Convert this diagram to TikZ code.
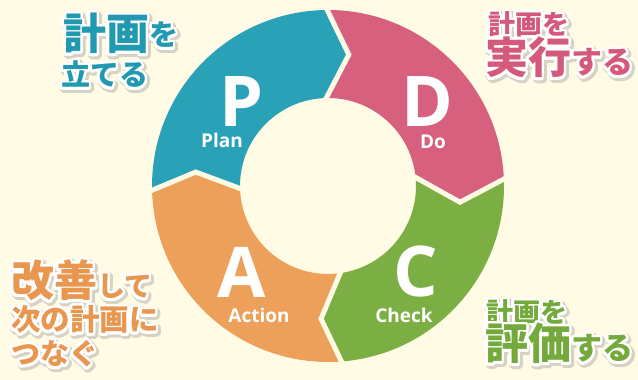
\documentclass[tikz,border=0pt]{standalone}
\usepackage{fontspec}
\setmainfont{Open Sans}
\newfontfamily\jp{Noto Sans CJK JP}
\usepackage{contour}
\contournumber{32}
\contourlength{2.6pt}
\definecolor{bg}{HTML}{FFFBE4}
\definecolor{cP}{HTML}{29A1B7}
\definecolor{cD}{HTML}{D8607F}
\definecolor{cC}{HTML}{7BAF43}
\definecolor{cA}{HTML}{ECA05A}
\definecolor{tP}{HTML}{2199B1}
\definecolor{tD}{HTML}{D5597B}
\definecolor{tC}{HTML}{74AA3B}
\definecolor{tA}{HTML}{E9974F}
\definecolor{shc}{HTML}{D6D3C4}
\tikzset{
  gap/.style={draw=bg,line width=5pt,line join=miter,line cap=butt},
  bigl/.style={text=white,font=\fontsize{70}{70}\selectfont\bfseries,inner sep=0},
  smalll/.style={text=white,font=\fontsize{19}{19}\selectfont\bfseries,inner sep=0},
  jptxt/.style={anchor=base west,inner sep=0,font=\jp\bfseries},
  jpsh/.style={jptxt,text=shc},
}
\newcommand\J[2]{{\fontsize{#1}{#1}\selectfont #2}}
\newcommand\jpline[5]{%
  \node[jpsh] (#1-sh) at (#2+1.5,#3-2) {\contourlength{3.6pt}\contour{shc}{#5}};
  \node[jptxt,text=#4] (#1) at (#2,#3) {\contour{white}{#5}};
}
\begin{document}
\begin{tikzpicture}[x=1pt,y=1pt]
\fill[bg] (0,0) rectangle (638,380);
\begin{scope}[shift={(328,194)}]
  % P segment
  \fill[cP] (182:176) arc[start angle=182,end angle=91,radius=176pt]
     -- (81:133) -- (93:88) arc[start angle=93,end angle=183,radius=88pt]
     -- (174:133) -- cycle;
  % D segment
  \fill[cD] (91:176) arc[start angle=91,end angle=3,radius=176pt]
     -- (-7:133) -- (8:88) arc[start angle=8,end angle=93,radius=88pt]
     -- (81:133) -- cycle;
  % C segment
  \fill[cC] (3:176) arc[start angle=3,end angle=-85,radius=176pt]
     -- (-93:133) -- (-80:88) arc[start angle=-80,end angle=8,radius=88pt]
     -- (-7:133) -- cycle;
  % A segment
  \fill[cA] (-85:176) arc[start angle=-85,end angle=-178,radius=176pt]
     -- (-186:133) -- (-177:88) arc[start angle=-177,end angle=-80,radius=88pt]
     -- (-93:133) -- cycle;
  % gaps
  \draw[gap] (91:181) -- (81:133) -- (93:83);
  \draw[gap] (3:181) -- (-7:133) -- (8:83);
  \draw[gap] (-85:181) -- (-93:133) -- (-80:83);
  \draw[gap] (182:181) -- (174:133) -- (183:83);
\end{scope}
% letters
\node[bigl] (P) at (241,278) {P};
\node[smalll] (Plan) at (222,240) {Plan};
\node[bigl] (D) at (427,278) {D};
\node[smalll] (Do) at (433,238) {Do};
\node[bigl] (A) at (242,108) {A};
\node[smalll] (Action) at (259,65) {Action};
\node[bigl] (C) at (416,108) {C};
\node[smalll] (Check) at (404,65) {Check};
% Japanese captions
\jpline{tl1}{63}{330}{tP}{\J{43}{計画}\raisebox{4pt}{\J{29}{を}}}
\jpline{tl2}{61}{294}{tP}{\J{29}{立てる}}
\jpline{tr1}{488}{345}{tD}{\J{27}{計画を}}
\jpline{tr2}{485}{306}{tD}{\J{43}{実行}\J{31}{する}}
\jpline{bl1}{11}{83}{tA}{\J{43}{改善}\J{28}{して}}
\jpline{bl2}{11}{49}{tA}{\J{29.5}{次の計画に}}
\jpline{bl3}{11}{15}{tA}{\J{29}{つなぐ}}
\jpline{br1}{486}{57}{tC}{\J{27}{計画を}}
\jpline{br2}{485}{20}{tC}{\J{43}{評価}\J{31}{する}}
\end{tikzpicture}
\end{document}
